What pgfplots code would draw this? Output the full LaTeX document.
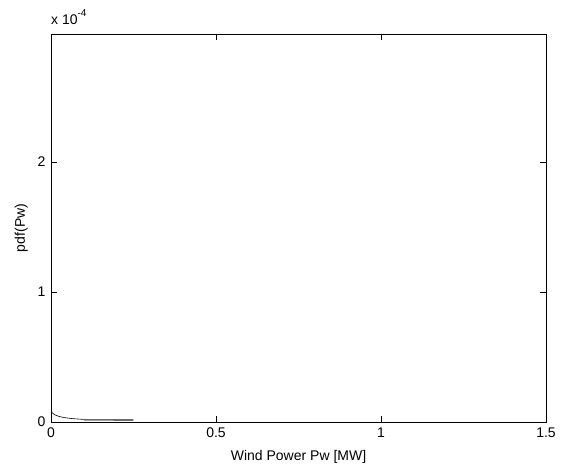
\documentclass[border=0pt]{standalone}
\usepackage{fontspec}
\setmainfont{Liberation Sans}
\usepackage{pgfplots}
\pgfplotsset{compat=1.18}
\begin{document}
\begin{tikzpicture}
\begin{axis}[
  scale only axis, width=495pt, height=388pt,
  xmin=0, xmax=1.5, ymin=0, ymax=2.985,
  xtick={0,0.5,1,1.5}, ytick={0,1,2},
  xticklabels={0,0.5,1,1.5},
  tick align=inside, major tick length=6pt,
  tick style={black, line width=0.5pt},
  axis line style={line width=0.7pt},
  /pgf/number format/assume math mode=true,
  ticklabel style={font=\fontsize{14}{16}\selectfont},
  label style={font=\fontsize{14}{16}\selectfont},
  xticklabel style={yshift=-2pt},
  yticklabel style={xshift=-2pt},
  xlabel={Wind Power Pw [MW]}, ylabel={pdf(Pw)},
  xlabel style={yshift=-6pt}, ylabel style={yshift=3pt},
  clip=false,
]
\addplot[black, line width=0.6pt] coordinates {
(0,0.085) (0.004,0.07) (0.008,0.062) (0.012,0.055) (0.02,0.047) (0.027,0.041)
(0.04,0.034) (0.058,0.028) (0.075,0.024) (0.1,0.02)};
\addplot[gray!85!black, line width=1.6pt] coordinates {(0.1,0.017) (0.25,0.015)};
\node[anchor=south west, font=\fontsize{14}{16}\selectfont, inner sep=0pt] at (rel axis cs:0,1) [yshift=9pt] {x 10\raisebox{1.1ex}{\fontsize{10}{11}\selectfont -4}};
\end{axis}
\pgfresetboundingbox
\path (-51pt,-42pt) rectangle (511pt,422pt);
\end{tikzpicture}
\end{document}
